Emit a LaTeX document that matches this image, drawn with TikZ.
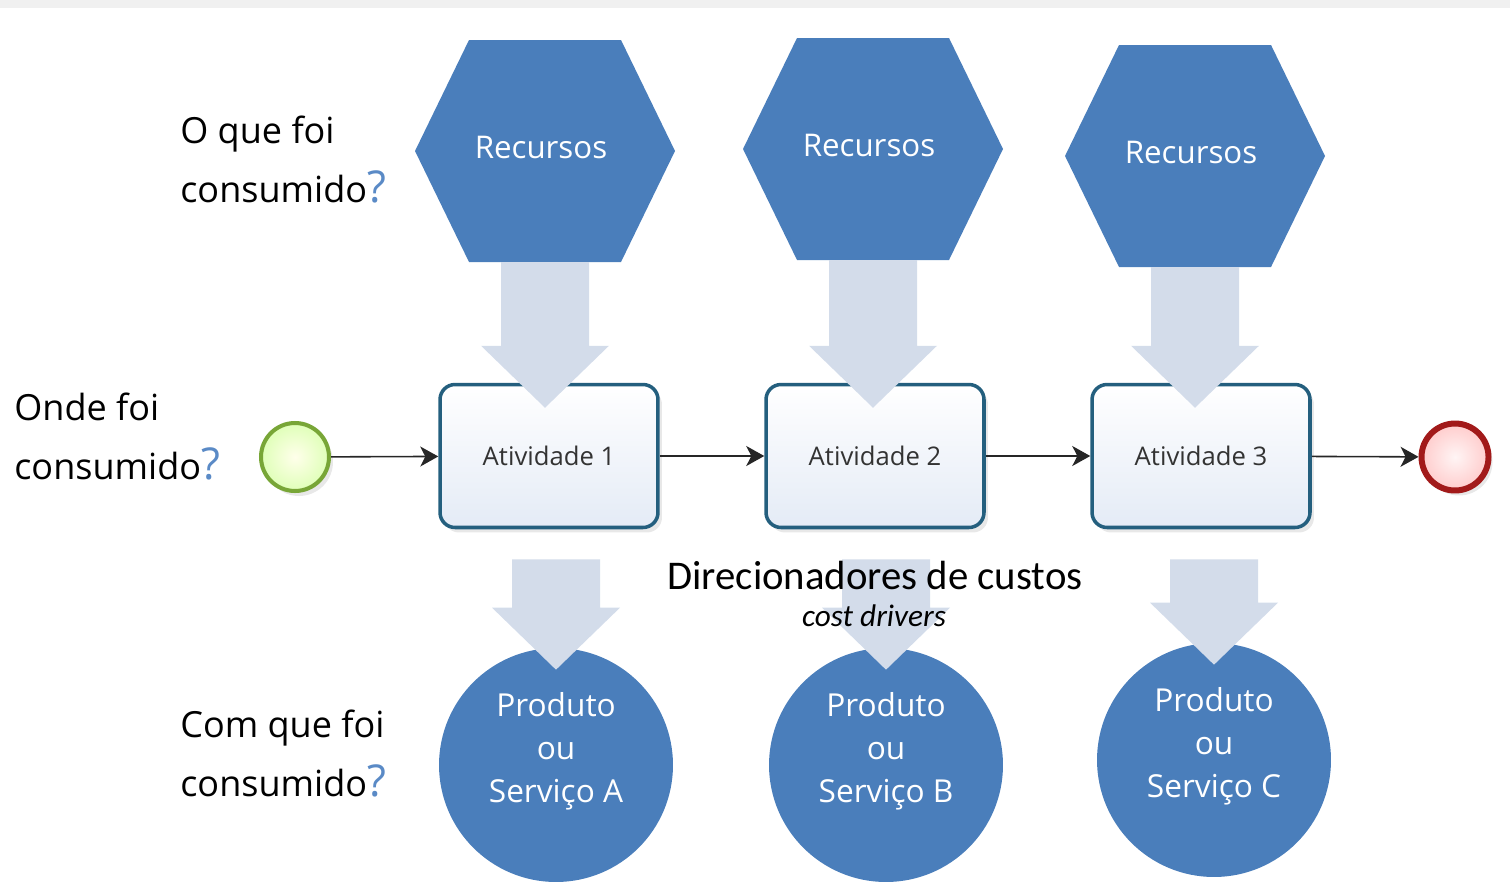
\documentclass[tikz,border=0pt]{standalone}
\usepackage{fontspec}
\setmainfont{Open Sans}
\newfontfamily\calibri{Carlito}
\usetikzlibrary{shapes.geometric,arrows.meta,calc,shadows}

\definecolor{hexblue}{HTML}{4A7EBB}
\definecolor{fatfill}{HTML}{D3DCEA}
\definecolor{taskline}{HTML}{245F7E}
\definecolor{taskfill}{HTML}{E4EBF6}
\definecolor{qmark}{HTML}{5A8AC6}
\definecolor{startline}{HTML}{78A637}
\definecolor{stopline}{HTML}{A21A1A}

\tikzset{
  restext/.style={text=white, font=\fontsize{17.8}{20}\selectfont},
  task/.style={rectangle, rounded corners=0.3cm, minimum width=4.36cm, minimum height=2.86cm,
    draw=taskline, line width=2pt, top color=white, bottom color=taskfill, text=black!80,
    font=\fontsize{14.6}{16}\selectfont,
    drop shadow={opacity=0.18, shadow xshift=0.08cm, shadow yshift=-0.1cm}},
  product/.style={circle, minimum size=4.68cm, inner sep=0pt, fill=hexblue},
  prodtext/.style={align=center, text=white, font=\fontsize{18}{24.5}\selectfont},
  startev/.style={circle, minimum size=1.36cm, draw=startline, line width=2.3pt,
    inner color=yellow!8, outer color=green!45!yellow!28,
    drop shadow={opacity=0.18, shadow xshift=0.08cm, shadow yshift=-0.1cm}},
  stopev/.style={circle, minimum size=1.34cm, draw=stopline, line width=3.4pt,
    inner color=red!4, outer color=red!20,
    drop shadow={opacity=0.18, shadow xshift=0.08cm, shadow yshift=-0.1cm}},
  flow/.style={draw=black!85, line width=0.9pt, -{Stealth[length=0.36cm, width=0.4cm, inset=0.1cm]}},
  question/.style={anchor=west, align=left, inner sep=0pt, font=\fontsize{20.5}{33.6}\selectfont},
  fatarrow/.style={fill=fatfill}
}

% hexagon: #1 name, #2 centre, #3 text
\newcommand{\hexres}[3]{%
  \coordinate (#1) at (#2);
  \fill[hexblue] ($(#1)+(-76,-111)$) -- ($(#1)+(76,-111)$) -- ($(#1)+(130,0)$)
    -- ($(#1)+(76,111)$) -- ($(#1)+(-76,111)$) -- ($(#1)+(-130,0)$) -- cycle;
  \coordinate (#1-s) at ($(#1)+(0,111)$);
  \node[restext] (#1-t) at ($(#1)+(-4,-4)$) {#3};}
% fat arrow: #1 top of shaft, #2 tip
\newcommand{\fatdown}[2]{%
  \fill[fatarrow] ($(#1)+(-44,0)$) -- ($(#2)+(-44,-62)$) -- ($(#2)+(-64,-62)$) -- (#2)
    -- ($(#2)+(64,-62)$) -- ($(#2)+(44,-62)$) -- ($(#1)+(44,0)$) -- cycle;}
\newcommand{\qm}{{\color{qmark}\fontsize{25}{25}\selectfont ?}}

\begin{document}
\begin{tikzpicture}[x=0.02cm, y=-0.02cm]
\useasboundingbox (0,0) rectangle (1510,889);
\fill[black!6] (0,0) rectangle (1510,8);

% questions on the left
\node[question] (qwhat) at (180,160) {O que foi\\consumido\qm};
\node[question] (qwhere) at (14,437) {Onde foi\\consumido\qm};
\node[question] (qwith) at (180,754) {Com que foi\\consumido\qm};

% resources
\hexres{hexa1}{545,151}{Recursos}
\hexres{hexa2}{873,149}{Recursos}
\hexres{hexa3}{1195,156}{Recursos}

% process
\node[startev] (start) at (295,457) {};
\node[task] (act1) at (549,456) {Atividade 1};
\node[task] (act2) at (875,456) {Atividade 2};
\node[task] (act3) at (1201,456) {Atividade 3};
\node[stopev] (stop) at (1455,457) {};
\draw[flow] (start) -- (act1);
\draw[flow] (act1) -- (act2);
\draw[flow] (act2) -- (act3);
\draw[flow] (act3) -- (stop);

% products
\node[product] (prodA) at (556,765) {};
\node[product] (prodB) at (886,765) {};
\node[product] (prodC) at (1214,760) {};
\node[prodtext] (txtA) at ($(prodA)+(0,-14)$) {Produto\\ou\\Serviço A};
\node[prodtext] (txtB) at ($(prodB)+(0,-14)$) {Produto\\ou\\Serviço B};
\node[prodtext] (txtC) at ($(prodC)+(0,-14)$) {Produto\\ou\\Serviço C};

% fat arrows
\foreach \i in {1,2,3}{
  \coordinate (in\i) at ($(hexa\i-s |- act\i.north)+(0,25)$);
  \fatdown{hexa\i-s}{in\i}
}
\foreach \i/\p in {1/A,2/B,3/C}{
  \coordinate (out\i) at ($(prod\p |- act\i.south)+(0,30)$);
  \coordinate (tip\i) at ($(prod\p.north)+(0,22)$);
  \fatdown{out\i}{tip\i}
}

\node[font=\calibri\fontsize{23.2}{26}\selectfont] (drivers) at (875,575) {Direcionadores de custos};
\node[font=\calibri\itshape\fontsize{17.8}{20}\selectfont] (drivers2) at (874,616) {cost drivers};
\end{tikzpicture}
\end{document}
